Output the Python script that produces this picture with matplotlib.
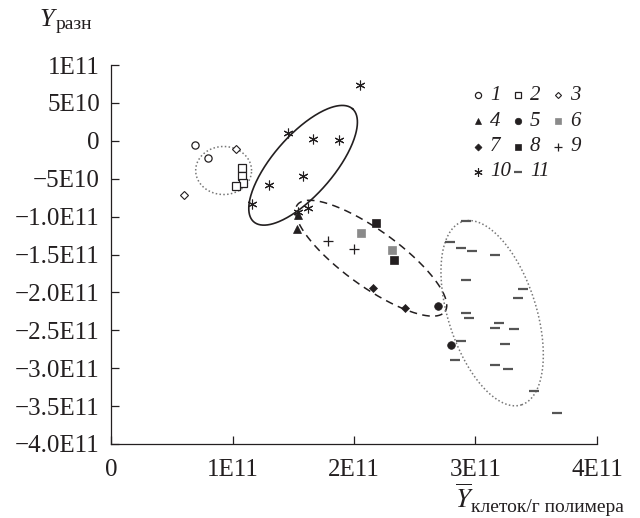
import numpy as np
import matplotlib
matplotlib.use('Agg')
import matplotlib.pyplot as plt

plt.rcParams['font.family'] = ['Liberation Serif', 'DejaVu Serif']
plt.rcParams['mathtext.fontset'] = 'stix'

# x in units of 1E11 cells, y in units of 1E9
s1_x = [0.69, 0.80]
s1_y = [-5, -23]
s2_x = [1.08, 1.08, 1.09, 1.03]
s2_y = [-36, -47, -56, -60]
s3_x = [1.03, 0.60]
s3_y = [-11, -72]
s4_x = [1.54, 1.53]
s4_y = [-98, -117]
s5_x = [2.69, 2.80]
s5_y = [-218, -270]
s6_x = [2.06, 2.31]
s6_y = [-122, -144]
s7_x = [2.16, 2.42]
s7_y = [-194, -220]
s8_x = [2.18, 2.33]
s8_y = [-109, -157]
s9_x = [1.79, 2.00]
s9_y = [-132, -143]
s10_x = [2.05, 1.46, 1.66, 1.88, 1.58, 1.30, 1.16, 1.62, 1.54]
s10_y = [73, 10, 3, 1, -47, -58, -84, -88, -94]
s11_x = [2.92, 2.79, 2.88, 2.97, 3.16, 2.92, 3.39, 3.35, 2.92, 2.95,
         3.19, 3.16, 3.32, 2.88, 3.24, 2.83, 3.16, 3.27, 3.48, 3.67]
s11_y = [-106, -134, -141, -146, -150, -183, -195, -207, -227, -234,
         -241, -247, -248, -264, -268, -289, -296, -301, -330, -359]

# ellipses: centre, semi-axis vectors (same units as data)
ell_c = [(0.927, -39.2), (1.581, -32.3), (2.141, -154.9), (3.137, -227.4)]
ell_u = [(0.230, 0.0), (0.407, 74.5), (0.608, -70.3), (0.2424, -120.9)]
ell_v = [(0.0, 31.7), (0.185, -26.2), (0.1345, 30.0), (0.3445, 17.9)]

x_ticks = [0, 1, 2, 3, 4]
x_labels = ['0', '1E11', '2E11', '3E11', '4E11']
y_ticks = [100, 50, 0, -50, -100, -150, -200, -250, -300, -350, -400]
y_labels = ['1E11', '5E10', '0', '\u22125E10', '\u22121.0E11', '\u22121.5E11',
            '\u22122.0E11', '\u22122.5E11', '\u22123.0E11', '\u22123.5E11', '\u22124.0E11']

K = '#231f20'
G = '#8a8a8a'
D = '#555555'
series = [
    (s1_x, s1_y, dict(marker='o', ms=5.2, mfc='white', mec=K, mew=0.9), '1'),
    (s2_x, s2_y, dict(marker='s', ms=5.2, mfc='white', mec=K, mew=0.9), '2'),
    (s3_x, s3_y, dict(marker='D', ms=3.6, mfc='white', mec=K, mew=0.8), '3'),
    (s4_x, s4_y, dict(marker='^', ms=5.5, mfc=K, mec=K, mew=0.5), '4'),
    (s5_x, s5_y, dict(marker='o', ms=5.5, mfc=K, mec=K, mew=0.5), '5'),
    (s6_x, s6_y, dict(marker='s', ms=5.5, mfc=G, mec=G, mew=0.5), '6'),
    (s7_x, s7_y, dict(marker='D', ms=4.2, mfc=K, mec=K, mew=0.5), '7'),
    (s8_x, s8_y, dict(marker='s', ms=5.5, mfc=K, mec=K, mew=0.5), '8'),
    (s9_x, s9_y, dict(marker='+', ms=7, mec=K, mew=0.9), '9'),
    (s10_x, s10_y, dict(marker=(6, 2, 0), ms=7, mec=K, mew=0.8), '10'),
    (s11_x, s11_y, dict(marker='_', ms=7.5, mec=D, mew=1.6), '11'),
]
ell_style = [
    dict(color='#777777', lw=1.1, ls=(0, (1, 1.5))),
    dict(color=K, lw=1.2, ls='-'),
    dict(color=K, lw=1.1, ls=(0, (5, 3.5))),
    dict(color='#777777', lw=1.1, ls=(0, (1, 1.5))),
]

fig = plt.figure(figsize=(6.4, 5.18), dpi=100)
ax = fig.add_axes([111 / 640, 74 / 518, 486 / 640, 379 / 518])

t = np.linspace(0, 2 * np.pi, 300)
for c, u, v, st in zip(ell_c, ell_u, ell_v, ell_style):
    ex = (c[0] + u[0] * np.cos(t) + v[0] * np.sin(t)) * 1e11
    ey = (c[1] + u[1] * np.cos(t) + v[1] * np.sin(t)) * 1e9
    ax.plot(ex, ey, **st)

for xs, ys, st, lab in series:
    ax.plot(np.array(xs) * 1e11, np.array(ys) * 1e9, ls='none', **st)

ax.set_xlim(0, 4e11)
ax.set_ylim(-4e11, 1e11)
ax.set_xticks(np.array(x_ticks) * 1e11)
ax.set_xticklabels(x_labels)
ax.set_yticks(np.array(y_ticks) * 1e9)
ax.set_yticklabels(y_labels)
ax.spines['top'].set_visible(False)
ax.spines['right'].set_visible(False)
for s in ['left', 'bottom']:
    ax.spines[s].set_linewidth(0.9)
    ax.spines[s].set_color(K)
ax.tick_params(axis='both', direction='in', length=6, width=0.9, colors=K,
               labelsize=18, labelcolor=K)
ax.tick_params(axis='x', pad=11)
ax.tick_params(axis='y', pad=8)

# axis titles
fig.text(47 / 640, 1 - 26 / 518, 'Y', fontsize=19, style='italic', ha='center',
         va='baseline', color=K)
fig.text(56 / 640, 1 - 29 / 518, 'разн', fontsize=14, ha='left', va='baseline', color=K)
fig.text(464 / 640, 1 - 508 / 518, r'$\overline{Y}$', fontsize=19, ha='center',
         va='baseline', color=K)
fig.text(471 / 640, 1 - 512 / 518, 'клеток/г полимера', fontsize=14, ha='left',
         va='baseline', color=K)

# legend grid, row-major
col_x = [478, 518, 558]
row_y = [95, 121, 146.5, 172]
for i, (xs, ys, st, lab) in enumerate(series):
    r, cidx = divmod(i, 3)
    mx = col_x[cidx] / 640
    my = 1 - row_y[r] / 518
    st2 = dict(st)
    st2['ms'] = st2['ms'] * 0.85
    fig.add_artist(plt.Line2D([mx], [my], transform=fig.transFigure, ls='none', **st2))
    fig.text(mx + 12 / 640, my, lab, fontsize=15, style='italic', ha='left',
             va='center', color=K)

fig.savefig('out.png', dpi=100)
